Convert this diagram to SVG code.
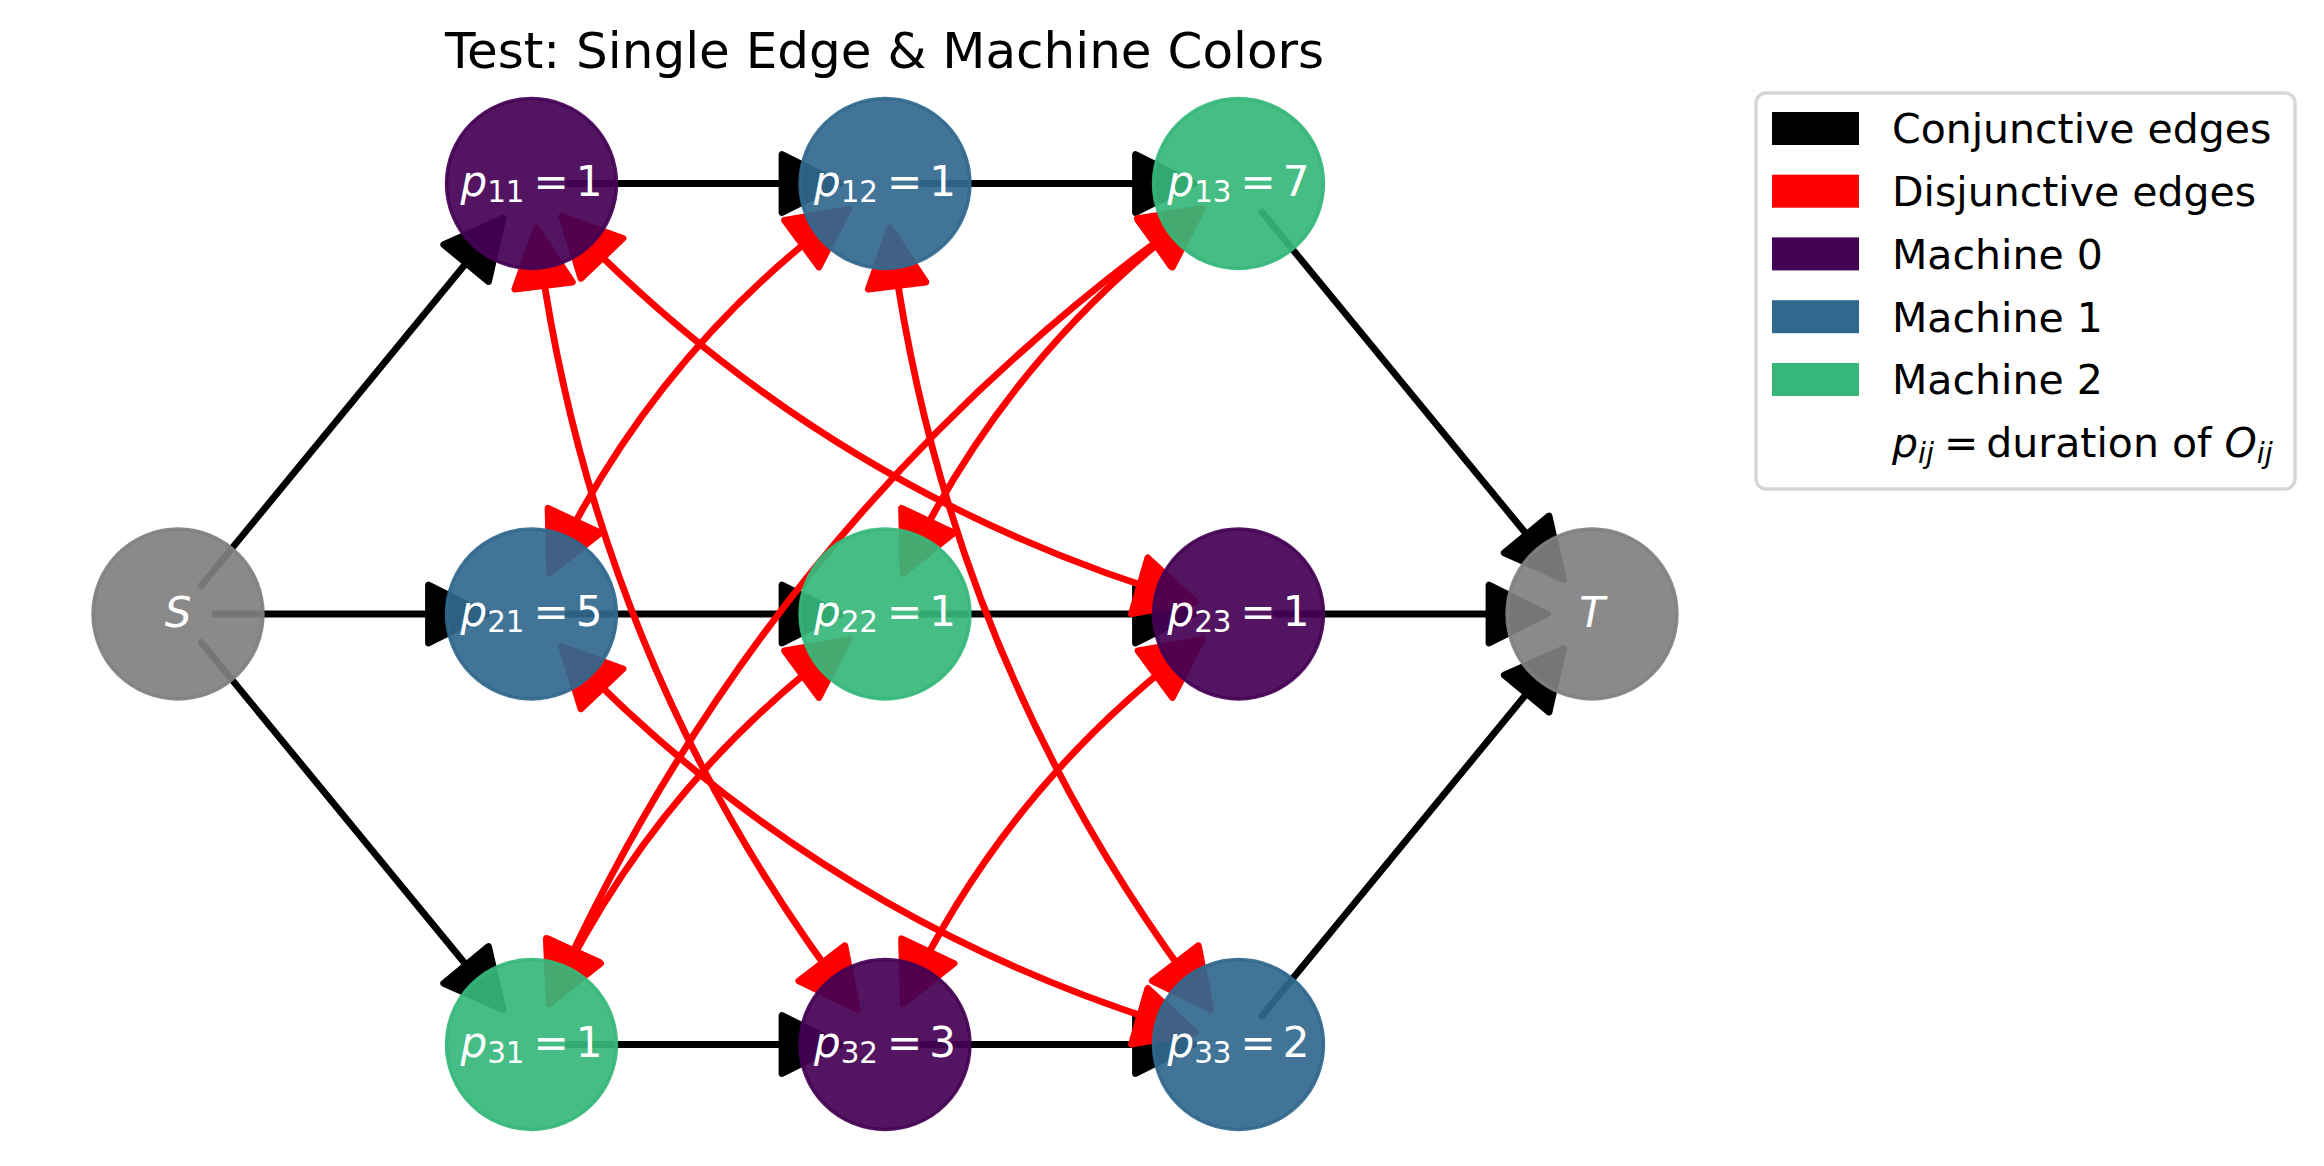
<svg xmlns="http://www.w3.org/2000/svg" width="2324" height="1166" viewBox="0 0 2324 1166">
<style>
  .conj { fill: none; stroke: #000; stroke-width: 6.8; stroke-linecap: round; marker-end: url(#hk); }
  .disj { fill: none; stroke: #ff0000; stroke-width: 6.8; stroke-linecap: round; marker-start: url(#hr); marker-end: url(#hr); }
  .node { fill-opacity: 0.92; stroke-opacity: 0.92; stroke-width: 3.4; }
  .m0 { fill: #440154; stroke: #440154; }
  .m1 { fill: #31688e; stroke: #31688e; }
  .m2 { fill: #35b779; stroke: #35b779; }
  .st { fill: #808080; stroke: #808080; }
  .lbl { font-family: "DejaVu Sans", sans-serif; font-size: 42px; fill: #ffffff; text-anchor: middle; }
  .sub { font-size: 29.4px; }
  .it { font-style: italic; }
  .title { font-family: "DejaVu Sans", sans-serif; font-size: 50px; fill: #000; text-anchor: middle; }
  .leg { font-family: "DejaVu Sans", sans-serif; font-size: 41px; fill: #000; }
</style>
<defs>
  <marker id="hk" markerUnits="userSpaceOnUse" orient="auto-start-reverse" viewBox="-70 -40 80 80" refX="0" refY="0" markerWidth="80" markerHeight="80" overflow="visible">
    <path d="M0,0 L-58,-29 L-58,29 Z" fill="#000" stroke="#000" stroke-width="6.8" stroke-linejoin="round"/>
  </marker>
  <marker id="hr" markerUnits="userSpaceOnUse" orient="auto-start-reverse" viewBox="-70 -40 80 80" refX="0" refY="0" markerWidth="80" markerHeight="80" overflow="visible">
    <path d="M0,0 L-58,-29 L-58,29 Z" fill="#ff0000" stroke="#ff0000" stroke-width="6.8" stroke-linejoin="round"/>
  </marker>
</defs>
<rect x="0" y="0" width="2324" height="1166" fill="#ffffff"/>
<text class="title" x="884.5" y="68">Test: Single Edge &amp; Machine Colors</text>
<g id="connectors">
  <g id="conjunctive">
    <path class="conj" d="M201.48,585.41 L502.94,218.28"/>
    <path class="conj" d="M215,614 L486.5,614"/>
    <path class="conj" d="M201.48,642.59 L502.94,1009.72"/>
    <path class="conj" d="M568.5,183.5 L840,183.5"/>
    <path class="conj" d="M922,183.5 L1193.5,183.5"/>
    <path class="conj" d="M1261.98,212.1 L1563.44,579.22"/>
    <path class="conj" d="M568.5,614 L840,614"/>
    <path class="conj" d="M922,614 L1193.5,614"/>
    <path class="conj" d="M1275.5,614 L1547,614"/>
    <path class="conj" d="M568.5,1044.5 L840,1044.5"/>
    <path class="conj" d="M922,1044.5 L1193.5,1044.5"/>
    <path class="conj" d="M1261.98,1015.9 L1563.44,648.78"/>
  </g>
  <g id="disjunctive">
    <path class="disj" d="M561.94,216.39 Q826.80,494.33 1195.32,602.05"/>
    <path class="disj" d="M536.46,228.06 Q590.51,662.34 857.22,1009.31"/>
    <path class="disj" d="M1201.93,639.74 Q1006.39,783.80 903.13,1003.62"/>
    <path class="disj" d="M848.43,209.24 Q652.89,353.30 549.63,573.12"/>
    <path class="disj" d="M889.96,228.06 Q944.01,662.34 1210.72,1009.31"/>
    <path class="disj" d="M561.94,646.89 Q826.80,924.83 1195.32,1032.55"/>
    <path class="disj" d="M1201.93,209.24 Q1006.39,353.30 903.13,573.12"/>
    <path class="disj" d="M1201.54,208.92 Q765.46,515.84 549.25,1003.30"/>
    <path class="disj" d="M848.43,639.74 Q652.89,783.80 549.63,1003.62"/>
  </g>
</g>
<g id="S"><circle class="node st" cx="178" cy="614" r="85"/><text class="lbl it" x="178" y="626.5">S</text></g>
<g id="T"><circle class="node st" cx="1592" cy="614" r="85"/><text class="lbl it" x="1592" y="626.5">T</text></g>
<g id="p11"><circle class="node m0" cx="531.5" cy="183.5" r="85"/><text class="lbl" x="531.5" y="195.5"><tspan class="it">p</tspan><tspan class="sub" dy="6">11</tspan><tspan dy="-6" dx="9">=</tspan><tspan dx="7">1</tspan></text></g>
<g id="p12"><circle class="node m1" cx="885" cy="183.5" r="85"/><text class="lbl" x="885" y="195.5"><tspan class="it">p</tspan><tspan class="sub" dy="6">12</tspan><tspan dy="-6" dx="9">=</tspan><tspan dx="7">1</tspan></text></g>
<g id="p13"><circle class="node m2" cx="1238.5" cy="183.5" r="85"/><text class="lbl" x="1238.5" y="195.5"><tspan class="it">p</tspan><tspan class="sub" dy="6">13</tspan><tspan dy="-6" dx="9">=</tspan><tspan dx="7">7</tspan></text></g>
<g id="p21"><circle class="node m1" cx="531.5" cy="614" r="85"/><text class="lbl" x="531.5" y="626"><tspan class="it">p</tspan><tspan class="sub" dy="6">21</tspan><tspan dy="-6" dx="9">=</tspan><tspan dx="7">5</tspan></text></g>
<g id="p22"><circle class="node m2" cx="885" cy="614" r="85"/><text class="lbl" x="885" y="626"><tspan class="it">p</tspan><tspan class="sub" dy="6">22</tspan><tspan dy="-6" dx="9">=</tspan><tspan dx="7">1</tspan></text></g>
<g id="p23"><circle class="node m0" cx="1238.5" cy="614" r="85"/><text class="lbl" x="1238.5" y="626"><tspan class="it">p</tspan><tspan class="sub" dy="6">23</tspan><tspan dy="-6" dx="9">=</tspan><tspan dx="7">1</tspan></text></g>
<g id="p31"><circle class="node m2" cx="531.5" cy="1044.5" r="85"/><text class="lbl" x="531.5" y="1056.5"><tspan class="it">p</tspan><tspan class="sub" dy="6">31</tspan><tspan dy="-6" dx="9">=</tspan><tspan dx="7">1</tspan></text></g>
<g id="p32"><circle class="node m0" cx="885" cy="1044.5" r="85"/><text class="lbl" x="885" y="1056.5"><tspan class="it">p</tspan><tspan class="sub" dy="6">32</tspan><tspan dy="-6" dx="9">=</tspan><tspan dx="7">3</tspan></text></g>
<g id="p33"><circle class="node m1" cx="1238.5" cy="1044.5" r="85"/><text class="lbl" x="1238.5" y="1056.5"><tspan class="it">p</tspan><tspan class="sub" dy="6">33</tspan><tspan dy="-6" dx="9">=</tspan><tspan dx="7">2</tspan></text></g>
<g id="legend">
  <rect x="1756" y="93" width="539" height="396" rx="10" fill="#ffffff" fill-opacity="0.8" stroke="#cccccc" stroke-opacity="0.8" stroke-width="3.4"/>
  <rect x="1772" y="112" width="87" height="33" fill="#000000"/>
  <rect x="1772" y="174.7" width="87" height="33" fill="#ff0000"/>
  <rect x="1772" y="237.4" width="87" height="33" fill="#440154"/>
  <rect x="1772" y="300.2" width="87" height="33" fill="#31688e"/>
  <rect x="1772" y="363" width="87" height="33" fill="#35b779"/>
  <text class="leg" x="1892" y="143.3">Conjunctive edges</text>
  <text class="leg" x="1892" y="206">Disjunctive edges</text>
  <text class="leg" x="1892" y="268.8">Machine 0</text>
  <text class="leg" x="1892" y="331.5">Machine 1</text>
  <text class="leg" x="1892" y="394.3">Machine 2</text>
  <text class="leg" x="1892" y="457"><tspan class="it">p</tspan><tspan class="it" font-size="28.7" dy="6">ij</tspan><tspan dy="-6" dx="10">=</tspan><tspan dx="8">duration of </tspan><tspan class="it">O</tspan><tspan class="it" font-size="28.7" dy="6">ij</tspan></text>
</g>
</svg>
